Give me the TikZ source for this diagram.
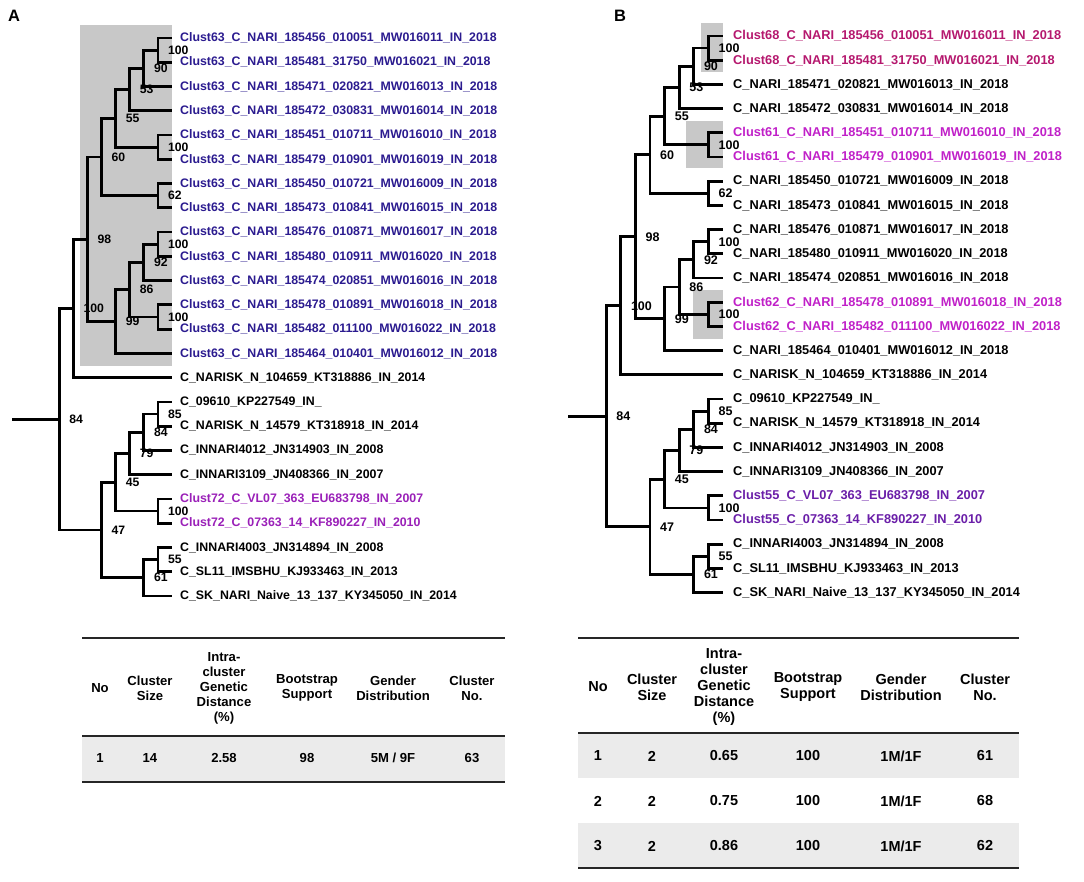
\documentclass[tikz,border=0pt]{standalone}
\usepackage{fontspec}
\setmainfont{Liberation Sans}
\definecolor{boxgray}{HTML}{C8C8C8}
\definecolor{rowgray}{HTML}{EBEBEB}
\definecolor{c63}{HTML}{2B1B8F}
\definecolor{c72}{HTML}{9A20B8}
\definecolor{c68}{HTML}{B5186E}
\definecolor{c61}{HTML}{C020C8}
\definecolor{c55}{HTML}{6A1EA8}
\tikzset{
  branch/.style={line width=2.8pt, line join=miter},
  boot/.style={anchor=west, inner sep=0pt},
  leaf/.style={anchor=west, inner sep=0pt},
  rule/.style={line width=1.5pt, draw=black!85},
  head/.style={align=center, inner sep=0pt},
}
\begin{document}
\begin{tikzpicture}[x=1pt,y=-1pt]
\useasboundingbox (0,0) rectangle (1084,882);
% shaded clusters
\fill[boxgray] (80,25) rectangle (172,366);
\fill[boxgray] (701,23) rectangle (723,72);
\fill[boxgray] (686,121) rectangle (723,168);
\fill[boxgray] (693,290) rectangle (723,339);
\node[font=\fontsize{16.5}{18}\selectfont\bfseries] (pA) at (14,16) {A};
\node[font=\fontsize{16.5}{18}\selectfont\bfseries] (pB) at (620,16) {B};
% both trees
\foreach \T/\tip/\st/\yo/\dy/\rx/\bsz in {A/172/14.1/38/24.26/12/12.2, B/723/14.6/36/24.2/568/12.5} {
  \foreach \i in {1,...,24} \coordinate (\T-l\i) at (\tip,{\yo+(\i-1)*\dy});
  \foreach \nn/\hh/\kk/\bs in {1/1/1.5/100, 2/2/2.25/90, 3/3/3.125/53, 4/1/5.5/100,
      5/4/4.3125/55, 6/1/7.5/62, 7/5/5.90625/60, 8/1/9.5/100, 9/2/10.25/92,
      10/1/12.5/100, 11/3/11.375/86, 12/4/12.6875/99, 13/6/9.296875/98,
      14/7/12.1484375/100, 15/1/16.5/85, 16/2/17.25/84, 17/3/18.125/79,
      18/1/20.5/100, 19/4/19.3125/45, 20/1/22.5/55, 21/2/23.25/61,
      22/5/21.28125/47, 23/8/16.71484/84} {
    \coordinate (\T-n\nn) at ({\tip-\hh*\st},{\yo+(\kk-1)*\dy});
    \node[boot, xshift=10pt, font={\fontsize{\bsz}{14}\selectfont\bfseries}] (\T-b\nn) at (\T-n\nn) {\bs};
  }
  \coordinate (\T-rt) at (\rx,{\yo+15.71484*\dy});
  \foreach \p/\c in {n1/l1, n1/l2, n2/n1, n2/l3, n3/n2, n3/l4, n4/l5, n4/l6,
      n5/n3, n5/n4, n6/l7, n6/l8, n7/n5, n7/n6, n8/l9, n8/l10, n9/n8, n9/l11,
      n10/l12, n10/l13, n11/n9, n11/n10, n12/n11, n12/l14, n13/n7, n13/n12,
      n14/n13, n14/l15, n15/l16, n15/l17, n16/n15, n16/l18, n17/n16, n17/l19,
      n18/l20, n18/l21, n19/n17, n19/n18, n20/l22, n20/l23, n21/n20, n21/l24,
      n22/n19, n22/n21, n23/n14, n23/n22}
    \draw[branch] (\T-\p) |- (\T-\c);
  \draw[branch] (\T-rt) -- (\T-n23);
}
% leaf names, panel A
\foreach \i/\txt/\cl in {
  1/Clust63\_C\_NARI\_185456\_010051\_MW016011\_IN\_2018/c63,
  2/Clust63\_C\_NARI\_185481\_31750\_MW016021\_IN\_2018/c63,
  3/Clust63\_C\_NARI\_185471\_020821\_MW016013\_IN\_2018/c63,
  4/Clust63\_C\_NARI\_185472\_030831\_MW016014\_IN\_2018/c63,
  5/Clust63\_C\_NARI\_185451\_010711\_MW016010\_IN\_2018/c63,
  6/Clust63\_C\_NARI\_185479\_010901\_MW016019\_IN\_2018/c63,
  7/Clust63\_C\_NARI\_185450\_010721\_MW016009\_IN\_2018/c63,
  8/Clust63\_C\_NARI\_185473\_010841\_MW016015\_IN\_2018/c63,
  9/Clust63\_C\_NARI\_185476\_010871\_MW016017\_IN\_2018/c63,
  10/Clust63\_C\_NARI\_185480\_010911\_MW016020\_IN\_2018/c63,
  11/Clust63\_C\_NARI\_185474\_020851\_MW016016\_IN\_2018/c63,
  12/Clust63\_C\_NARI\_185478\_010891\_MW016018\_IN\_2018/c63,
  13/Clust63\_C\_NARI\_185482\_011100\_MW016022\_IN\_2018/c63,
  14/Clust63\_C\_NARI\_185464\_010401\_MW016012\_IN\_2018/c63,
  15/C\_NARISK\_N\_104659\_KT318886\_IN\_2014/black,
  16/C\_09610\_KP227549\_IN\_/black,
  17/C\_NARISK\_N\_14579\_KT318918\_IN\_2014/black,
  18/C\_INNARI4012\_JN314903\_IN\_2008/black,
  19/C\_INNARI3109\_JN408366\_IN\_2007/black,
  20/Clust72\_C\_VL07\_363\_EU683798\_IN\_2007/c72,
  21/Clust72\_C\_07363\_14\_KF890227\_IN\_2010/c72,
  22/C\_INNARI4003\_JN314894\_IN\_2008/black,
  23/C\_SL11\_IMSBHU\_KJ933463\_IN\_2013/black,
  24/C\_SK\_NARI\_Naive\_13\_137\_KY345050\_IN\_2014/black}
  \node[leaf, xshift=8pt, text=\cl, font=\fontsize{12.35}{14}\selectfont\bfseries] (A-t\i) at (A-l\i) {\txt};
% leaf names, panel B
\foreach \i/\txt/\cl in {
  1/Clust68\_C\_NARI\_185456\_010051\_MW016011\_IN\_2018/c68,
  2/Clust68\_C\_NARI\_185481\_31750\_MW016021\_IN\_2018/c68,
  3/C\_NARI\_185471\_020821\_MW016013\_IN\_2018/black,
  4/C\_NARI\_185472\_030831\_MW016014\_IN\_2018/black,
  5/Clust61\_C\_NARI\_185451\_010711\_MW016010\_IN\_2018/c61,
  6/Clust61\_C\_NARI\_185479\_010901\_MW016019\_IN\_2018/c61,
  7/C\_NARI\_185450\_010721\_MW016009\_IN\_2018/black,
  8/C\_NARI\_185473\_010841\_MW016015\_IN\_2018/black,
  9/C\_NARI\_185476\_010871\_MW016017\_IN\_2018/black,
  10/C\_NARI\_185480\_010911\_MW016020\_IN\_2018/black,
  11/C\_NARI\_185474\_020851\_MW016016\_IN\_2018/black,
  12/Clust62\_C\_NARI\_185478\_010891\_MW016018\_IN\_2018/c61,
  13/Clust62\_C\_NARI\_185482\_011100\_MW016022\_IN\_2018/c61,
  14/C\_NARI\_185464\_010401\_MW016012\_IN\_2018/black,
  15/C\_NARISK\_N\_104659\_KT318886\_IN\_2014/black,
  16/C\_09610\_KP227549\_IN\_/black,
  17/C\_NARISK\_N\_14579\_KT318918\_IN\_2014/black,
  18/C\_INNARI4012\_JN314903\_IN\_2008/black,
  19/C\_INNARI3109\_JN408366\_IN\_2007/black,
  20/Clust55\_C\_VL07\_363\_EU683798\_IN\_2007/c55,
  21/Clust55\_C\_07363\_14\_KF890227\_IN\_2010/c55,
  22/C\_INNARI4003\_JN314894\_IN\_2008/black,
  23/C\_SL11\_IMSBHU\_KJ933463\_IN\_2013/black,
  24/C\_SK\_NARI\_Naive\_13\_137\_KY345050\_IN\_2014/black}
  \node[leaf, xshift=10pt, text=\cl, font=\fontsize{12.8}{14}\selectfont\bfseries] (B-t\i) at (B-l\i) {\txt};
% table A
\fill[rowgray] (82,736) rectangle (505,782);
\draw[rule] (82,638) -- (505,638);
\draw[rule] (82,736) -- (505,736);
\draw[rule] (82,782) -- (505,782);
\foreach \cx/\txt in {100/No, 150/Cluster\\Size, 224/Intra-\\cluster\\Genetic\\Distance\\(\%),
    307/Bootstrap\\Support, 393/Gender\\Distribution, 472/Cluster\\No.}
  \node[head, font=\fontsize{13.1}{15}\selectfont\bfseries] (A-h\cx) at (\cx,688) {\txt};
\foreach \cx/\txt in {100/1, 150/14, 224/2.58, 307/98, 472/63}
  \node[head, font=\fontsize{13.1}{15}\selectfont\bfseries] (A-v\cx) at (\cx,758) {\txt};
\node[head, font=\fontsize{13.1}{15}\selectfont\bfseries] (A-v393) at (393,758) {5M / 9F};
% table B
\fill[rowgray] (578,733) rectangle (1019,778);
\fill[rowgray] (578,823) rectangle (1019,868);
\draw[rule] (578,638) -- (1019,638);
\draw[rule] (578,733) -- (1019,733);
\draw[rule] (578,868) -- (1019,868);
\foreach \cx/\txt in {598/No, 652/Cluster\\Size, 724/Intra-\\cluster\\Genetic\\Distance\\(\%),
    808/Bootstrap\\Support, 901/Gender\\Distribution, 985/Cluster\\No.}
  \node[head, font=\fontsize{14.5}{16.2}\selectfont\bfseries] (B-h\cx) at (\cx,687) {\txt};
\foreach \r/\yy/\gd/\cn in {1/756/0.65/61, 2/801/0.75/68, 3/846/0.86/62} {
  \node[head, font=\fontsize{14.5}{16}\selectfont\bfseries] (B-no\r) at (598,\yy) {\r};
  \node[head, font=\fontsize{14.5}{16}\selectfont\bfseries] (B-sz\r) at (652,\yy) {2};
  \node[head, font=\fontsize{14.5}{16}\selectfont\bfseries] (B-gd\r) at (724,\yy) {\gd};
  \node[head, font=\fontsize{14.5}{16}\selectfont\bfseries] (B-bs\r) at (808,\yy) {100};
  \node[head, font=\fontsize{14.5}{16}\selectfont\bfseries] (B-gn\r) at (901,\yy) {1M/1F};
  \node[head, font=\fontsize{14.5}{16}\selectfont\bfseries] (B-cn\r) at (985,\yy) {\cn};
}
\end{tikzpicture}
\end{document}
